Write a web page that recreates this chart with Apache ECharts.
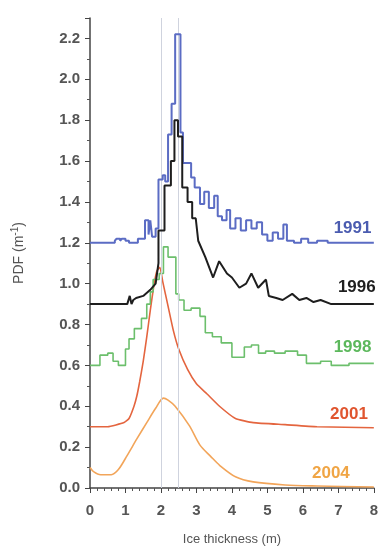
<!DOCTYPE html>
<html>
<head>
<meta charset="utf-8">
<script src="https://cdn.jsdelivr.net/npm/echarts@6/dist/echarts.min.js"></script>
<style>
html,body{margin:0;padding:0;background:#fff;}
#c{width:381px;height:551px;}
</style>
</head>
<body>
<div id="c"></div>
<script>
// Ice thickness (m) and PDF values per survey year
var x1991 = [0,0.7,0.75,0.85,0.9,1.0,1.1,1.35,1.55,1.65,1.7,1.75,1.85,1.93,2.05,2.12,2.2,2.3,2.4,2.55,2.62,2.85,2.95,3.1,3.22,3.35,3.5,3.6,3.72,3.85,3.95,4.1,4.25,4.4,4.55,4.7,4.85,5.0,5.15,5.3,5.45,5.55,5.75,5.95,6.15,6.4,6.7,8];
var y1991 = [1.2,1.21,1.22,1.21,1.22,1.21,1.2,1.22,1.31,1.24,1.31,1.23,1.27,1.51,1.53,1.5,1.73,1.88,2.22,1.74,1.59,1.52,1.47,1.39,1.45,1.37,1.43,1.33,1.31,1.36,1.27,1.32,1.26,1.31,1.27,1.3,1.24,1.21,1.25,1.22,1.29,1.21,1.2,1.22,1.2,1.21,1.2,1.2];

var x1996 = [0,1.05,1.12,1.17,1.22,1.3,1.5,1.7,1.85,1.93,1.93,2.1,2.1,2.28,2.28,2.38,2.38,2.48,2.48,2.6,2.6,2.75,2.75,2.88,2.88,2.98,3.05,3.25,3.47,3.64,3.86,4.0,4.21,4.4,4.55,4.74,4.96,5.04,5.25,5.43,5.7,5.9,6.1,6.3,6.5,6.8,8];
var y1996 = [0.9,0.9,0.94,0.9,0.92,0.93,0.94,0.97,1.0,1.1,1.26,1.26,1.48,1.48,1.6,1.6,1.8,1.8,1.72,1.72,1.47,1.47,1.40,1.40,1.32,1.32,1.21,1.13,1.03,1.11,1.05,1.03,0.98,1.0,1.05,0.98,1.02,0.94,0.93,0.92,0.95,0.92,0.93,0.91,0.92,0.9,0.9];

var x1998 = [0,0.28,0.5,0.65,0.8,1.0,1.1,1.25,1.45,1.6,1.7,1.78,1.95,2.07,2.2,2.42,2.5,2.65,2.85,3.1,3.25,3.45,3.7,4.0,4.35,4.55,4.75,4.95,5.2,5.5,5.85,6.1,6.5,6.8,7.3,8];
var y1998 = [0.6,0.65,0.66,0.62,0.6,0.68,0.73,0.78,0.83,0.9,0.96,1.02,1.05,1.18,1.13,0.95,0.92,0.87,0.88,0.84,0.76,0.74,0.71,0.64,0.69,0.7,0.66,0.67,0.66,0.67,0.65,0.61,0.62,0.6,0.61,0.61];

var x2001 = [0,0.5,0.96,1.1,1.24,1.32,1.4,1.5,1.6,1.7,1.8,1.88,1.97,2.05,2.2,2.35,2.5,2.75,3.0,3.3,3.65,4.1,4.6,5.5,6.4,8];
var y2001 = [0.3,0.3,0.32,0.34,0.4,0.45,0.52,0.62,0.74,0.87,0.99,1.06,1.08,1.01,0.89,0.77,0.68,0.58,0.51,0.46,0.40,0.34,0.32,0.31,0.3,0.295];

var x2004 = [0,0.1,0.3,0.6,0.8,1.05,1.32,1.6,1.85,2.07,2.2,2.4,2.8,3.1,3.4,3.66,4.1,4.6,5.5,6.4,8];
var y2004 = [0.1,0.08,0.065,0.065,0.09,0.16,0.24,0.32,0.39,0.44,0.43,0.40,0.305,0.21,0.155,0.11,0.055,0.03,0.015,0.01,0.005];

var years = ['1991','1996','1998','2001','2004'];
var xTicks = [0,1,2,3,4,5,6,7,8];
var refLines = [2, 2.5];

function pairs(xs, ys){ return xs.map(function(x,i){ return [x, ys[i]]; }); }

var FONT = 'Liberation Sans, Arial, sans-serif';
var chart = echarts.init(document.getElementById('c'), null, {renderer:'canvas'});

function yearLabel(name, coord, color){
  return {
    symbol:'rect', symbolSize:[1,1], silent:true,
    itemStyle:{color:'rgba(0,0,0,0)'},
    data:[{coord:coord, name:name, value:name}],
    label:{show:true, position:'inside', formatter:name, color:color,
      fontFamily:FONT, fontSize:17, fontWeight:'bold'}
  };
}

chart.setOption({
  animation:false,
  backgroundColor:'#ffffff',
  grid:{left:90, right:1, top:18, bottom:58},
  xAxis:{
    type:'value', min:0, max:8, interval:1,
    name:'Ice thickness (m)', nameLocation:'middle', nameGap:45,
    nameTextStyle:{color:'#555', fontSize:13, fontFamily:FONT},
    axisLine:{show:true, onZero:false, lineStyle:{color:'#444', width:1.5}},
    axisTick:{show:true, length:5, lineStyle:{color:'#444'}},
    minorTick:{show:true, splitNumber:5, length:3, lineStyle:{color:'#555'}},
    axisLabel:{color:'#555', fontSize:15, fontWeight:'bold', fontFamily:FONT, margin:15,
      formatter:function(v){ return xTicks.indexOf(v) >= 0 ? String(v) : ''; }},
    splitLine:{show:false}
  },
  yAxis:{
    type:'value', min:0, max:2.3, interval:0.2,
    name:'{a|PDF (m}{b|-1}{a|)}', nameLocation:'middle', nameGap:62, nameRotate:90,
    nameTextStyle:{color:'#555', fontSize:14, fontFamily:FONT,
      rich:{a:{fontSize:14, color:'#555', fontFamily:FONT}, b:{fontSize:10, color:'#555', fontFamily:FONT, verticalAlign:'top', padding:[0,0,8,0]}}},
    axisLine:{show:true, onZero:false, lineStyle:{color:'#444', width:1.5}},
    axisTick:{show:true, length:5, lineStyle:{color:'#444'}},
    minorTick:{show:true, splitNumber:2, length:3, lineStyle:{color:'#555'}},
    axisLabel:{color:'#555', fontSize:15, fontWeight:'bold', fontFamily:FONT, margin:10,
      showMaxLabel:false,
      formatter:function(v){ return v.toFixed(1); }},
    splitLine:{show:false}
  },
  series:[
    {type:'line', name:years[4], data:pairs(x2004,y2004), smooth:0.3, showSymbol:false, z:2,
     lineStyle:{color:'#f2a55a', width:1.6},
     markPoint:yearLabel(years[4],[6.79,0.07],'#f0a545'),
     markLine:{silent:true, symbol:'none', label:{show:false},
       lineStyle:{color:'#cfd3de', width:1, type:'solid'},
       data:refLines.map(function(v){ return {xAxis:v}; })}},
    {type:'line', name:years[3], data:pairs(x2001,y2001), smooth:0.15, showSymbol:false, z:3,
     lineStyle:{color:'#e4653f', width:1.6},
     markPoint:yearLabel(years[3],[7.3,0.36],'#e0552f')},
    {type:'line', name:years[2], data:pairs(x1998,y1998), step:'end', showSymbol:false, z:4,
     lineStyle:{color:'#6cbf6c', width:1.6},
     markPoint:yearLabel(years[2],[7.4,0.69],'#5cb85c')},
    {type:'line', name:years[1], data:pairs(x1996,y1996), showSymbol:false, z:6,
     lineStyle:{color:'#1e1e1e', width:2},
     markPoint:yearLabel(years[1],[7.52,0.98],'#1e1e1e')},
    {type:'line', name:years[0], data:pairs(x1991,y1991), step:'end', showSymbol:false, z:5,
     lineStyle:{color:'#5b6cc4', width:2},
     markPoint:yearLabel(years[0],[7.4,1.27],'#4b5cb0')}
  ]
});
</script>
</body>
</html>
